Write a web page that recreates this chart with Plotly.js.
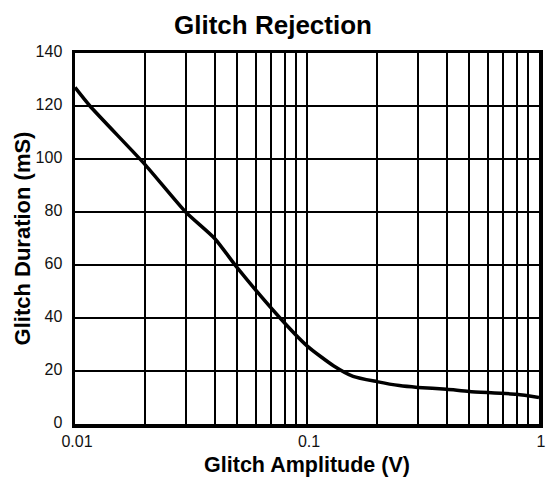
<!DOCTYPE html>
<html><head><meta charset="utf-8">
<script src="https://cdn.plot.ly/plotly-3.0.1.min.js"></script>
<style>html,body{margin:0;padding:0;background:#fff}#chart{width:546px;height:479px}</style>
</head><body><div id="chart"></div>
<script>
const amplitudeV = [0.01, 0.0116, 0.02, 0.03, 0.04, 0.05, 0.0765, 0.1, 0.13, 0.158, 0.2, 0.25, 0.3, 0.4, 0.5, 0.8, 1.0];
const durationUs = [127, 120, 98, 80, 70, 59, 40, 29.5, 22, 18, 16, 14.5, 13.8, 13.1, 12.3, 11.2, 10];
const xGridVals = [0.01,0.02,0.03,0.04,0.05,0.06,0.07,0.08,0.09,0.1,0.2,0.3,0.4,0.5,0.6,0.7,0.8,0.9,1];
const xTickLabels = {0.01:'0.01', 0.1:'0.1', 1:'1'};
const yTickVals = [0,20,40,60,80,100,120,140];

const font = 'Arial, "Liberation Sans", sans-serif';
Plotly.newPlot('chart', [{
  x: amplitudeV, y: durationUs, type: 'scatter', mode: 'lines',
  line: {color: '#000', width: 3.5, shape: 'spline', smoothing: 0.6}, hoverinfo: 'none'
}], {
  width: 546, height: 479,
  margin: {l: 75, r: 7, t: 53, b: 55},
  paper_bgcolor: '#fff', plot_bgcolor: '#fff',
  showlegend: false,
  font: {family: font, color: '#111', size: 16},
  title: {text: '<b>Glitch Rejection</b>', font: {family: font, size: 26, color: '#000'}, x: 0.5, xanchor: 'center', y: 0.948, yanchor: 'middle'},
  xaxis: {
    type: 'log', range: [-2, 0], tickmode: 'array', tickvals: xGridVals,
    ticktext: xGridVals.map(v => xTickLabels[v] || ''),
    showgrid: true, gridcolor: '#000', gridwidth: 2,
    showline: true, linecolor: '#000', linewidth: 3.5, mirror: true,
    ticks: '', zeroline: false, tickfont: {family: font, size: 16, color: '#111'}, ticklabelshift: 2,
    ticklabeloverflow: 'allow',
    automargin: false,
    title: {text: '<b>Glitch Amplitude (V)</b>', font: {size: 21.5, color: '#000'}, standoff: 9}
  },
  yaxis: {
    range: [0, 140], tickmode: 'array', tickvals: yTickVals,
    showgrid: true, gridcolor: '#000', gridwidth: 2,
    showline: true, linecolor: '#000', linewidth: 3.5, mirror: true,
    ticks: '', zeroline: false, tickfont: {family: font, size: 16, color: '#111'}, ticklabelshift: -2,
    ticklabelstandoff: 6,
    automargin: false,
    title: {text: '<b>Glitch Duration (mS)</b>', font: {size: 22, color: '#000'}, standoff: 0}
  }
}, {displayModeBar: false, staticPlot: true});
</script></body></html>
